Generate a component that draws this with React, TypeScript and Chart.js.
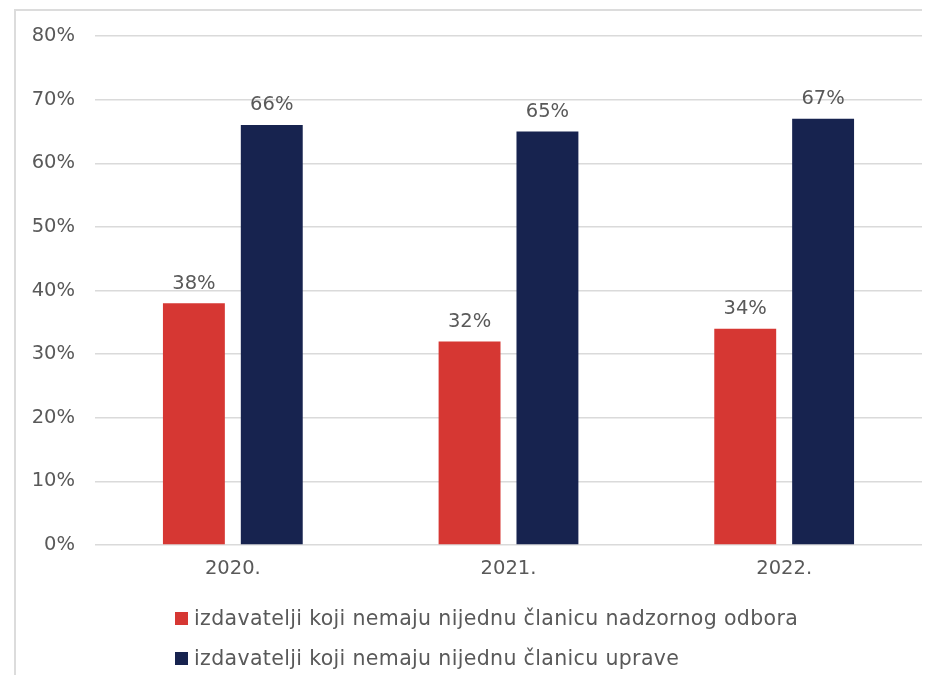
import React, { useEffect, useRef } from "react";
import { Chart, registerables } from "chart.js";

Chart.register(...registerables);

const categories = ["2020.", "2021.", "2022."];
const seriesNames = [
  "izdavatelji koji nemaju nijednu članicu nadzornog odbora",
  "izdavatelji koji nemaju nijednu članicu uprave",
];
const supervisoryValues = [38, 32, 34];
const managementValues = [66, 65, 67];
const seriesColors = ["#d63733", "#17234f"];
const yTicks = [0, 10, 20, 30, 40, 50, 60, 70, 80];

const FONT = "'DejaVu Sans', sans-serif";
const TEXT = "#595959";

const valueLabels = {
  id: "valueLabels",
  afterDatasetsDraw(chart: any) {
    const ctx = chart.ctx;
    ctx.save();
    ctx.font = `19.5px ${FONT}`;
    ctx.fillStyle = TEXT;
    ctx.textAlign = "center";
    ctx.textBaseline = "bottom";
    chart.data.datasets.forEach((ds: any, i: number) => {
      const meta = chart.getDatasetMeta(i);
      meta.data.forEach((bar: any, j: number) => {
        ctx.fillText(`${ds.data[j]}%`, bar.x, bar.y - 10);
      });
    });
    ctx.restore();
  },
};

export default function App() {
  const ref = useRef<HTMLCanvasElement>(null);
  useEffect(() => {
    if (!ref.current) return;
    const chart = new Chart(ref.current, {
      type: "bar",
      data: {
        labels: categories,
        datasets: [
          {
            label: seriesNames[0],
            data: supervisoryValues,
            backgroundColor: seriesColors[0],
            categoryPercentage: 0.565,
            barPercentage: 0.795,
          },
          {
            label: seriesNames[1],
            data: managementValues,
            backgroundColor: seriesColors[1],
            categoryPercentage: 0.565,
            barPercentage: 0.795,
          },
        ],
      },
      options: {
        animation: false,
        responsive: false,
        maintainAspectRatio: false,
        layout: { padding: { top: 0, left: 0, right: 0, bottom: 0 } },
        plugins: {
          legend: { display: false },
          tooltip: { enabled: false },
        },
        scales: {
          x: {
            grid: { display: false, drawTicks: false },
            border: { display: false },
            ticks: {
              color: TEXT,
              font: { family: FONT, size: 19.5 },
              padding: 12,
            },
            afterFit: (s: any) => {
              s.height = 130;
            },
          },
          y: {
            min: 0,
            max: 80,
            afterBuildTicks: (s: any) => {
              s.ticks = yTicks.map((v) => ({ value: v }));
            },
            grid: { color: "#dadada", lineWidth: 1.5, drawTicks: false },
            border: { display: false },
            ticks: {
              color: TEXT,
              font: { family: FONT, size: 19.5 },
              padding: 20,
              callback: (v: any) => `${v}%`,
            },
            afterFit: (s: any) => {
              s.width = 87;
              s.paddingTop = 28;
              s.paddingBottom = 20;
            },
          },
        },
      },
      plugins: [valueLabels],
    });
    return () => chart.destroy();
  }, []);

  return (
    <div style={{ position: "relative", width: 914, height: 667, overflow: "hidden" }}>
      <div
        style={{
          position: "absolute",
          left: 6,
          top: 1,
          width: 1000,
          height: 1000,
          border: "2px solid #dcdcdc",
        }}
      />
      <canvas
        ref={ref}
        width={914}
        height={667}
        style={{ position: "absolute", left: 0, top: 0 }}
      />
      <div
        style={{
          position: "absolute",
          left: 167,
          top: 590,
          fontFamily: FONT,
          fontSize: 20.5,
          letterSpacing: "0.35px",
          color: TEXT,
          lineHeight: "40px",
        }}
      >
        {seriesNames.map((n, i) => (
          <div key={n} style={{ display: "flex", alignItems: "center", whiteSpace: "nowrap" }}>
            <span
              style={{
                display: "inline-block",
                width: 13,
                height: 13,
                background: seriesColors[i],
                marginRight: 6,
              }}
            />
            {n}
          </div>
        ))}
      </div>
    </div>
  );
}
